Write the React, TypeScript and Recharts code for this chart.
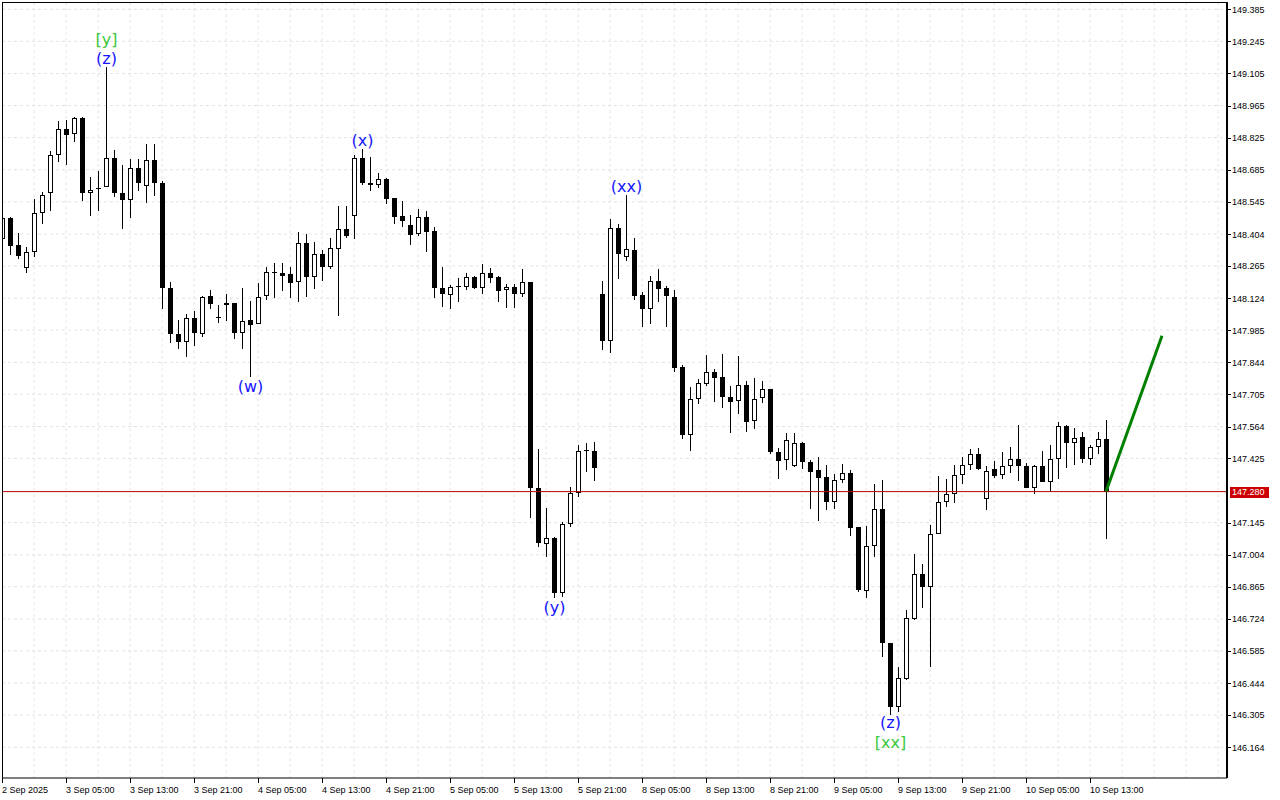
import React from "react";
import { Bar, CartesianGrid, ComposedChart, ReferenceDot, ReferenceLine, XAxis, YAxis } from "recharts";

// USDJPY-style H1 candles
const openPx = [
  148.381, 148.473, 148.357, 148.256, 148.324, 148.495, 148.583, 148.751, 148.861, 148.839,
  148.909, 148.582, 148.607, 148.608, 148.735, 148.582, 148.552, 148.691, 148.612, 148.726,
  148.625, 148.168, 147.966, 147.934, 148.036, 147.966, 148.134, 148.042, 148.102, 148.102,
  147.971, 148.027, 148.011, 148.134, 148.24, 148.236, 148.229, 148.194, 148.364, 148.216,
  148.316, 148.259, 148.339, 148.426, 148.484, 148.735, 148.627, 148.617, 148.643, 148.56,
  148.483, 148.442, 148.405, 148.478, 148.418, 148.168, 148.137, 148.175, 148.172, 148.216,
  148.168, 148.234, 148.217, 148.16, 148.172, 148.141, 148.194, 147.294, 147.051, 147.076,
  146.837, 147.137, 147.274, 147.459, 147.459, 148.141, 147.938, 148.429, 148.304, 148.335,
  148.137, 148.075, 148.199, 148.168, 148.13, 147.824, 147.527, 147.684, 147.748, 147.8,
  147.779, 147.694, 147.676, 147.744, 147.588, 147.688, 147.726, 147.454, 147.417, 147.391,
  147.492, 147.408, 147.373, 147.343, 147.233, 147.33, 147.36, 147.124, 146.847, 147.043,
  147.202, 146.618, 146.341, 146.462, 146.724, 146.919, 146.865, 147.093, 147.233, 147.268,
  147.353, 147.394, 147.444, 147.247, 147.379, 147.352, 147.392, 147.421, 147.393, 147.294,
  147.393, 147.321, 147.421, 147.567, 147.493, 147.519, 147.421, 147.474, 147.51,
];

const highPx = [
  148.479, 148.48, 148.41, 148.346, 148.557, 148.586, 148.766, 148.897, 148.902, 148.913,
  148.916, 148.653, 148.679, 149.135, 148.771, 148.705, 148.73, 148.73, 148.796, 148.796,
  148.634, 148.197, 148.029, 148.054, 148.068, 148.133, 148.16, 148.094, 148.143, 148.102,
  148.168, 148.112, 148.191, 148.261, 148.277, 148.279, 148.261, 148.412, 148.405, 148.368,
  148.335, 148.386, 148.527, 148.527, 148.749, 148.774, 148.74, 148.67, 148.647, 148.563,
  148.549, 148.488, 148.512, 148.505, 148.434, 148.261, 148.182, 148.211, 148.234, 148.222,
  148.272, 148.255, 148.222, 148.185, 148.185, 148.252, 148.194, 147.465, 147.207, 147.083,
  147.148, 147.3, 147.484, 147.494, 147.498, 148.199, 148.469, 148.448, 148.574, 148.386,
  148.15, 148.221, 148.252, 148.178, 148.16, 147.833, 147.736, 147.771, 147.876, 147.815,
  147.88, 147.741, 147.872, 147.762, 147.774, 147.762, 147.726, 147.472, 147.535, 147.535,
  147.498, 147.418, 147.43, 147.396, 147.357, 147.401, 147.374, 147.127, 147.13, 147.313,
  147.331, 146.618, 146.513, 146.763, 147.006, 146.964, 147.134, 147.348, 147.335, 147.396,
  147.431, 147.465, 147.469, 147.392, 147.414, 147.452, 147.475, 147.571, 147.405, 147.397,
  147.457, 147.484, 147.585, 147.571, 147.559, 147.539, 147.484, 147.539, 147.593,
];

const lowPx = [
  148.37, 148.313, 148.296, 148.236, 148.306, 148.447, 148.506, 148.719, 148.705, 148.807,
  148.55, 148.484, 148.506, 148.608, 148.566, 148.428, 148.476, 148.593, 148.541, 148.571,
  148.075, 147.927, 147.902, 147.867, 147.917, 147.956, 148.078, 148.018, 148.024, 147.946,
  147.901, 147.78, 148.011, 148.116, 148.125, 148.157, 148.127, 148.109, 148.131, 148.164,
  148.201, 148.25, 148.048, 148.386, 148.381, 148.618, 148.593, 148.604, 148.534, 148.45,
  148.437, 148.357, 148.397, 148.327, 148.125, 148.087, 148.075, 148.109, 148.16, 148.163,
  148.143, 148.189, 148.109, 148.082, 148.08, 148.131, 147.163, 147.04, 146.993, 146.815,
  146.82, 147.127, 147.257, 147.367, 147.328, 147.898, 147.885, 148.207, 148.288, 148.116,
  148.0, 148.011, 148.109, 148.0, 147.8, 147.51, 147.459, 147.661, 147.742, 147.673,
  147.646, 147.535, 147.619, 147.542, 147.552, 147.668, 147.443, 147.335, 147.374, 147.389,
  147.379, 147.204, 147.153, 147.199, 147.204, 147.316, 147.087, 146.843, 146.815, 146.994,
  146.558, 146.305, 146.319, 146.458, 146.72, 146.773, 146.516, 147.093, 147.214, 147.231,
  147.312, 147.376, 147.375, 147.201, 147.338, 147.334, 147.361, 147.328, 147.294, 147.268,
  147.321, 147.277, 147.334, 147.385, 147.396, 147.405, 147.396, 147.444, 147.071,
];

const closePx = [
  148.473, 148.352, 148.31, 148.324, 148.495, 148.574, 148.751, 148.861, 148.836, 148.909,
  148.582, 148.595, 148.604, 148.735, 148.582, 148.553, 148.691, 148.627, 148.726, 148.628,
  148.168, 147.966, 147.934, 148.036, 147.971, 148.13, 148.097, 148.04, 148.093, 147.971,
  148.024, 148.006, 148.131, 148.24, 148.236, 148.223, 148.192, 148.364, 148.217, 148.316,
  148.259, 148.342, 148.426, 148.397, 148.735, 148.628, 148.618, 148.643, 148.558, 148.48,
  148.46, 148.399, 148.478, 148.415, 148.168, 148.141, 148.175, 148.177, 148.216, 148.168,
  148.234, 148.211, 148.157, 148.172, 148.141, 148.194, 147.294, 147.055, 147.076, 146.837,
  147.137, 147.274, 147.459, 147.461, 147.382, 147.938, 148.429, 148.316, 148.338, 148.135,
  148.075, 148.199, 148.163, 148.135, 147.821, 147.527, 147.684, 147.754, 147.8, 147.774,
  147.693, 147.673, 147.744, 147.585, 147.684, 147.726, 147.454, 147.415, 147.504, 147.492,
  147.408, 147.367, 147.338, 147.233, 147.33, 147.36, 147.122, 146.85, 147.043, 147.202,
  146.618, 146.341, 146.465, 146.727, 146.919, 146.865, 147.093, 147.233, 147.268, 147.353,
  147.396, 147.444, 147.377, 147.369, 147.35, 147.392, 147.421, 147.392, 147.294, 147.393,
  147.321, 147.421, 147.567, 147.493, 147.514, 147.421, 147.474, 147.51, 147.28,
];

const timeLabels = [
  "2 Sep 2025", "3 Sep 05:00", "3 Sep 13:00", "3 Sep 21:00", "4 Sep 05:00", "4 Sep 13:00",
  "4 Sep 21:00", "5 Sep 05:00", "5 Sep 13:00", "5 Sep 21:00", "8 Sep 05:00", "8 Sep 13:00",
  "8 Sep 21:00", "9 Sep 05:00", "9 Sep 13:00", "9 Sep 21:00", "10 Sep 05:00", "10 Sep 13:00",
];

const priceTicks = [
  149.385, 149.245, 149.105, 148.965, 148.825, 148.685, 148.545, 148.404, 148.265, 148.124,
  147.985, 147.844, 147.705, 147.564, 147.425, 147.145, 147.004, 146.865, 146.724, 146.585,
  146.444, 146.305, 146.164,
];

const lastPrice = 147.28;

// projection drawn from the last close
const forecastBars = [138, 145];
const forecastPrices = [147.28, 147.96];

// wave marks
const waveText = ["[y]", "(z)", "(w)", "(x)", "(y)", "(xx)", "(z)", "[xx]"];
const waveBar = [13, 13, 31, 45, 69, 78, 111, 111];
const waveSide = ["high", "high", "low", "high", "low", "high", "low", "low"];

const LABEL_EVERY = 8;
const GRID_EVERY = 4;
const X_MAX = 153.125;
const Y_MIN = 146.03;
const Y_MAX = 149.417;

const waveGap = [-27, -8, 9, -9, 9, -9, 8, 28];
const waveColor = ["#3cc83c", "#1414ff", "#1414ff", "#1414ff", "#1414ff", "#1414ff", "#1414ff", "#3cc83c"];

const candles = openPx.map((o, i) => ({
  bar: i,
  open: o,
  high: highPx[i],
  low: lowPx[i],
  close: closePx[i],
}));

const tickBars = timeLabels.map((_, i) => i * LABEL_EVERY);
const gridBars = Array.from({ length: Math.floor(X_MAX / GRID_EVERY) }, (_, j) => (j + 1) * GRID_EVERY);

const axisFont = "'Liberation Sans', Arial, sans-serif";
const gridColor = "#e3e3e3";

function Candle(props: any) {
  const { x, y, width, height, payload } = props;
  if (!payload || height == null) return null;
  const { open, close, high, low } = payload;
  const cx = Math.round(x + width / 2);
  const span = high - low || 1;
  const py = (v: number) => y + ((high - v) / span) * height;
  const top = Math.round(py(Math.max(open, close)));
  const bot = Math.round(py(Math.min(open, close)));
  const bull = close >= open;
  return (
    <g shapeRendering="crispEdges">
      <line x1={cx + 0.5} x2={cx + 0.5} y1={Math.round(y)} y2={Math.round(y + height)} stroke="#000" strokeWidth={1} />
      {bull ? (
        bot - top >= 2 ? (
          <rect x={cx - 1.5} y={top + 0.5} width={4} height={bot - top - 1} fill="#fff" stroke="#000" strokeWidth={1} />
        ) : (
          <rect x={cx - 2} y={top} width={5} height={1} fill="#000" />
        )
      ) : (
        <rect x={cx - 2} y={top} width={5} height={Math.max(1, bot - top)} fill="#000" />
      )}
    </g>
  );
}

function TimeTick(props: any) {
  const { x, y, payload } = props;
  const label = timeLabels[Math.round(payload.value / LABEL_EVERY)];
  return (
    <g>
      <line x1={x + 0.5} x2={x + 0.5} y1={y} y2={y + 5} stroke="#000" />
      <text x={x} y={y + 15} fontSize={9} fontFamily={axisFont} fill="#000" textAnchor="start">
        {label}
      </text>
    </g>
  );
}

function PriceTick(props: any) {
  const { x, y, payload } = props;
  return (
    <g>
      <line x1={x} x2={x + 4} y1={Math.round(y) + 0.5} y2={Math.round(y) + 0.5} stroke="#000" />
      <text x={x + 5} y={y + 3.5} fontSize={9} fontFamily={axisFont} fill="#000" textAnchor="start">
        {payload.value.toFixed(3)}
      </text>
    </g>
  );
}

function PriceTag(props: any) {
  const { cx, cy } = props;
  if (cx == null || cy == null) return null;
  return (
    <g>
      <rect x={cx + 3} y={Math.round(cy) - 5} width={39} height={11} fill="#cc0000" />
      <text x={cx + 5} y={cy + 3.5} fontSize={9} fontFamily={axisFont} fill="#fff">
        {lastPrice.toFixed(3)}
      </text>
    </g>
  );
}

export default function App() {
  return (
    <div style={{ position: "absolute", left: 0, top: 0, width: 1280, height: 800, background: "#fff" }}>
      <ComposedChart width={1280} height={800} data={candles} margin={{ top: 2, right: 0, bottom: 0, left: 2 }}>
        <CartesianGrid
          stroke={gridColor}
          strokeDasharray="3 3"
          verticalValues={gridBars}
          horizontalValues={priceTicks}
        />
        <XAxis
          type="number"
          dataKey="bar"
          domain={[0, X_MAX]}
          ticks={tickBars}
          interval={0}
          allowDataOverflow
          height={22}
          tickSize={0}
          tickMargin={0}
          axisLine={{ stroke: "#000" }}
          tickLine={false}
          tick={(p: any) => <TimeTick {...p} />}
        />
        <YAxis
          orientation="right"
          type="number"
          domain={[Y_MIN, Y_MAX]}
          ticks={priceTicks}
          interval={0}
          allowDataOverflow
          width={53}
          tickSize={0}
          tickMargin={0}
          axisLine={{ stroke: "#000", strokeWidth: 2 }}
          tickLine={false}
          tick={(p: any) => <PriceTick {...p} />}
        />
        <ReferenceLine y={lastPrice} stroke="#b40000" />
        <Bar
          dataKey={(d: any) => [d.low, d.high]}
          barSize={5}
          shape={(p: any) => <Candle {...p} />}
          isAnimationActive={false}
        />
        <ReferenceLine
          segment={[
            { x: forecastBars[0], y: forecastPrices[0] },
            { x: forecastBars[1], y: forecastPrices[1] },
          ]}
          stroke="#008000"
          strokeWidth={3}
        />
        {waveText.map((t, i) => {
          const b = waveBar[i];
          const price = waveSide[i] === "high" ? highPx[b] : lowPx[b];
          return (
            <ReferenceDot
              key={i}
              x={b}
              y={price}
              r={0}
              shape={(p: any) => (
                <text
                  x={p.cx + 0.5}
                  y={p.cy + waveGap[i]}
                  fill={waveColor[i]}
                  fontSize={16}
                  fontFamily="'DejaVu Sans', sans-serif"
                  textAnchor="middle"
                  dominantBaseline="central"
                >
                  {t}
                </text>
              )}
            />
          );
        })}
        <ReferenceDot x={X_MAX} y={lastPrice} r={0} shape={(p: any) => <PriceTag {...p} />} />
      </ComposedChart>
      <div
        style={{
          position: "absolute",
          left: 2,
          top: 2,
          width: 1225,
          height: 776,
          borderTop: "1px solid #000",
          borderLeft: "1px solid #000",
          boxSizing: "border-box",
          pointerEvents: "none",
        }}
      />
    </div>
  );
}
